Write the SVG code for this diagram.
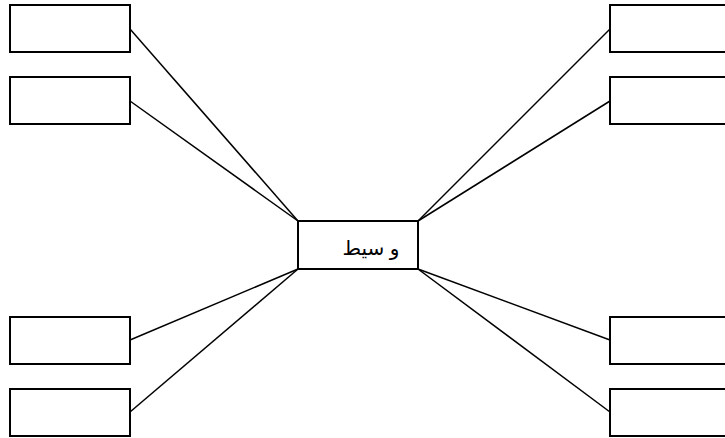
<svg xmlns="http://www.w3.org/2000/svg" width="725" height="438" viewBox="0 0 725 438">
<style>
.box{fill:#fff;stroke:#000;stroke-width:2}
.ln{stroke:#000;stroke-width:1.5;fill:none}
.t{font-family:"Liberation Sans","DejaVu Sans","Noto Sans",sans-serif;font-size:20px;fill:#000}
</style>
<rect width="725" height="438" fill="#fff"/>
<g id="connectors">
<line class="ln" x1="130" y1="29" x2="298" y2="221"/>
<line class="ln" x1="130" y1="101" x2="298" y2="221"/>
<line class="ln" x1="130" y1="340" x2="298" y2="269"/>
<line class="ln" x1="130" y1="412" x2="298" y2="269"/>
<line class="ln" x1="610" y1="29" x2="418" y2="221"/>
<line class="ln" x1="610" y1="101" x2="418" y2="221"/>
<line class="ln" x1="610" y1="340" x2="418" y2="269"/>
<line class="ln" x1="610" y1="412" x2="418" y2="269"/>
</g>
<g id="l1"><rect class="box" x="10" y="5" width="120" height="47"/></g>
<g id="l2"><rect class="box" x="10" y="77" width="120" height="47"/></g>
<g id="l3"><rect class="box" x="10" y="317" width="120" height="47"/></g>
<g id="l4"><rect class="box" x="10" y="389" width="120" height="47"/></g>
<g id="r1"><rect class="box" x="610" y="5" width="120" height="47"/></g>
<g id="r2"><rect class="box" x="610" y="77" width="120" height="47"/></g>
<g id="r3"><rect class="box" x="610" y="317" width="120" height="47"/></g>
<g id="r4"><rect class="box" x="610" y="389" width="120" height="47"/></g>
<g id="center"><rect class="box" x="298" y="221" width="120" height="48"/>
<text class="t" x="371" y="255" text-anchor="middle">و سيط</text></g>
</svg>
